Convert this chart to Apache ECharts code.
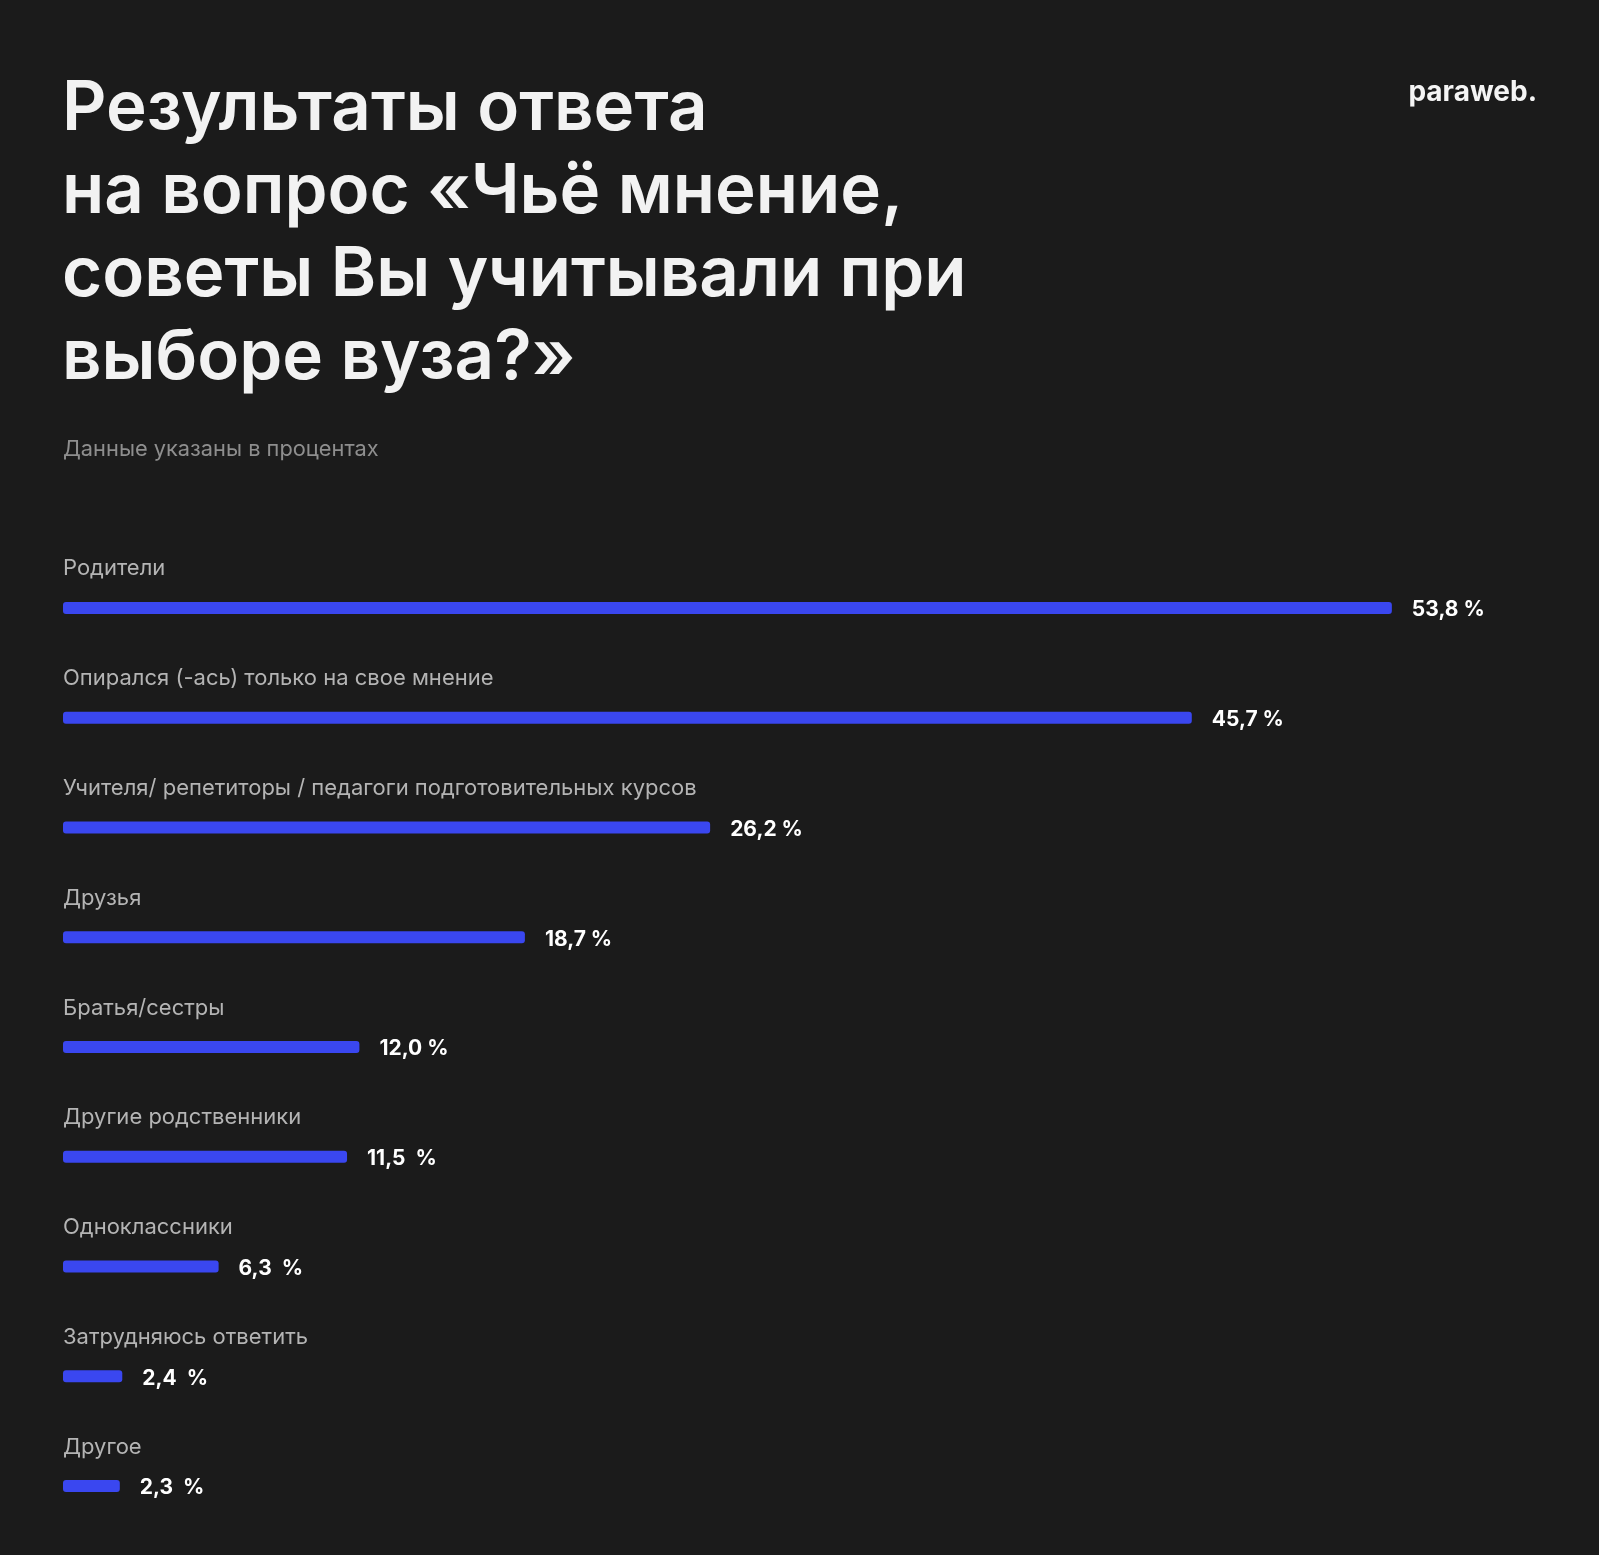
<!DOCTYPE html>
<html>
<head>
<meta charset="utf-8">
<script src="https://cdn.jsdelivr.net/npm/echarts@6/dist/echarts.min.js"></script>
<style>
  html, body { margin: 0; padding: 0; background: #1b1b1b; }
  #chart { width: 1599px; height: 1555px; }
</style>
</head>
<body>
<div id="chart"></div>
<script>
// данные опроса
var categories = [
    'Родители',
    'Опирался (-ась) только на свое мнение',
    'Учителя/ репетиторы / педагоги подготовительных курсов',
    'Друзья',
    'Братья/сестры',
    'Другие родственники',
    'Одноклассники',
    'Затрудняюсь ответить',
    'Другое'
];
var values = [53.8, 45.7, 26.2, 18.7, 12.0, 11.5, 6.3, 2.4, 2.3];
var valueLabels = ['53,8 %', '45,7 %', '26,2 %', '18,7 %', '12,0 %', '11,5  %', '6,3  %', '2,4  %', '2,3  %'];

var titleText = 'Результаты ответа\nна вопрос «Чьё мнение,\nсоветы Вы учитывали при\nвыборе вуза?»';
var subtitleText = 'Данные указаны в процентах';
var logoText = 'paraweb.';

var myChart = echarts.init(document.getElementById('chart'));
var option = {
    backgroundColor: '#1b1b1b',
    textStyle: { fontFamily: 'Inter' },
    title: [
        {
            text: titleText,
            left: 62,
            top: 68,
            padding: 0,
            textStyle: {
                color: '#f2f2f2',
                fontFamily: 'Inter',
                fontSize: 69,
                fontWeight: 600,
                lineHeight: 83
            }
        },
        {
            text: subtitleText,
            left: 63,
            top: 438,
            padding: 0,
            textStyle: {
                color: '#8e8e8e',
                fontFamily: 'Inter',
                fontSize: 21.8,
                fontWeight: 400
            }
        },
        {
            text: logoText,
            right: 62,
            top: 79,
            padding: 0,
            textStyle: {
                color: '#f4f4f4',
                fontFamily: 'Inter',
                fontSize: 28,
                fontWeight: 700
            }
        }
    ],
    grid: {
        left: 63,
        right: 54,
        top: 553,
        bottom: 14
    },
    xAxis: {
        type: 'value',
        min: 0,
        max: 60,
        show: false
    },
    yAxis: {
        type: 'category',
        data: categories,
        inverse: true,
        axisLine: { show: false },
        axisTick: { show: false },
        splitLine: { show: false },
        axisLabel: {
            inside: true,
            margin: 0,
            color: '#b4b4b4',
            fontFamily: 'Inter',
            fontSize: 22,
            lineHeight: 22,
            verticalAlign: 'bottom',
            padding: [0, 0, 28, 0]
        }
    },
    series: [
        {
            type: 'bar',
            data: values,
            barWidth: 12,
            itemStyle: {
                color: '#3a47f0',
                borderRadius: 3
            },
            label: {
                show: true,
                position: 'right',
                distance: 20,
                offset: [0, 2],
                color: '#ffffff',
                fontFamily: 'Inter',
                fontSize: 21,
                fontWeight: 700,
                formatter: function (p) {
                    return valueLabels[p.dataIndex];
                }
            }
        }
    ]
};
myChart.setOption(option);
</script>
</body>
</html>
